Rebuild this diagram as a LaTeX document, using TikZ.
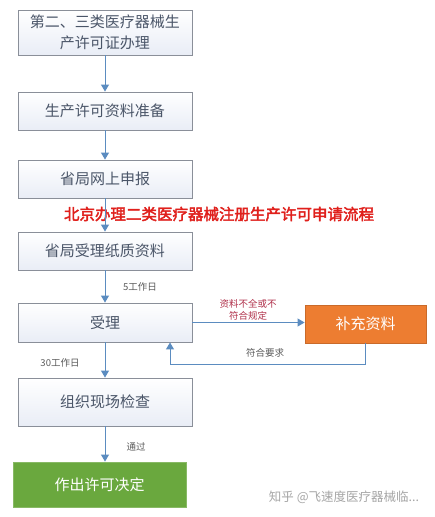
\documentclass[tikz,border=0pt]{standalone}
\usepackage{fontspec}
\setmainfont{Noto Sans CJK SC}[AutoFakeBold=2.5]
\usetikzlibrary{arrows.meta}

\definecolor{boxline}{HTML}{8A8F99}
\definecolor{boxfill}{HTML}{E9EDF6}
\definecolor{boxtext}{HTML}{4A5568}
\definecolor{flowline}{HTML}{5B8CC0}
\definecolor{labeltext}{HTML}{5A5A5A}
\definecolor{titlered}{HTML}{E0201C}
\definecolor{notered}{HTML}{B0304A}
\definecolor{fixorange}{HTML}{ED7D31}
\definecolor{okgreen}{HTML}{6AA83E}

\tikzset{
    stepbox/.style={draw=boxline, line width=0.9pt, top color=white, bottom color=boxfill,
        text=boxtext, font=\fontsize{15}{21}\selectfont, align=center,
        minimum width=174pt, minimum height=38pt, inner sep=0pt},
    flow/.style={draw=flowline, line width=1pt, -{Triangle[width=8pt,length=7pt]}},
    small/.style={font=\fontsize{9.5}{11.5}\selectfont, text=labeltext, align=center},
}

\begin{document}
\begin{tikzpicture}[x=1pt,y=-1pt]
    \useasboundingbox [fill=white] (0,0) rectangle (435,517);

    \node (apply) [stepbox, minimum height=45pt] at (105,32.5) {第二、三类医疗器械生\\产许可证办理};
    \node (prepare) [stepbox] at (105,111) {生产许可资料准备};
    \node (online) [stepbox] at (105,179) {省局网上申报};
    \node (paper) [stepbox] at (105,251) {省局受理纸质资料};
    \node (accept) [stepbox, minimum height=39pt] at (105,322.5) {受理};
    \node (supplement) [stepbox, draw=fixorange!85!black, fill=fixorange, top color=fixorange, bottom color=fixorange,
        text=white, minimum width=121pt] at (365.5,324) {补充资料};
    \node (inspect) [stepbox, minimum height=48pt] at (105,402) {组织现场检查};
    \node (decide) [stepbox, draw=okgreen!80!white, top color=okgreen, bottom color=okgreen,
        text=white, minimum width=173pt, minimum height=45pt] at (99.5,484.5) {作出许可决定};

    \node (title) [font=\fontsize{15.5}{18}\selectfont\bfseries, text=titlered] at (219,214)
        {北京办理二类医疗器械注册生产许可申请流程};

    \draw [flow] (apply) -- (prepare);
    \draw [flow] (prepare) -- (online);
    \draw [flow] (online) -- (paper);
    \draw [flow] (paper) -- (accept);
    \draw [flow] (accept) -- (inspect);
    \draw [flow] (inspect.south) -- (inspect.south |- decide.north);
    \draw [flow] (accept.east) -- (accept.east -| supplement.west);
    \draw [flow] (supplement.south) -- ++(0,21) -| ([xshift=65pt]accept.south);

    \node (days5) [small] at (140,287) {5工作日};
    \node (days30) [small] at (60,363) {30工作日};
    \node (passed) [small] at (136,447) {通过};
    \node (notok) [small, text=notered] at (248,310) {资料不全或不\\符合规定};
    \node (meets) [small] at (265,353) {符合要求};

    \node (mark) [font=\fontsize{12.5}{14}\selectfont, text=black!35] at (344,497) {知乎 @飞速度医疗器械临...};
\end{tikzpicture}
\end{document}
